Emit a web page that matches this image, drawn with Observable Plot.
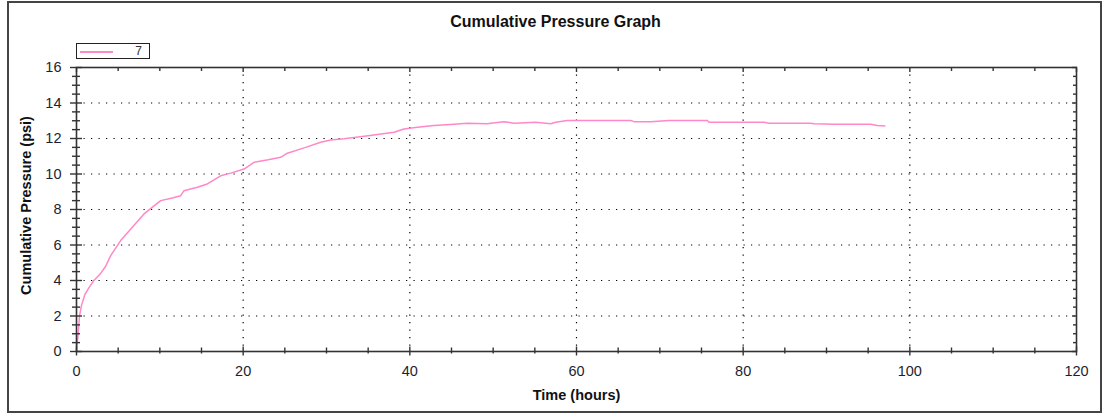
<!DOCTYPE html>
<html>
<head>
<meta charset="utf-8">
<script src="https://cdn.jsdelivr.net/npm/d3@7"></script>
<script src="https://cdn.jsdelivr.net/npm/@observablehq/plot@0.6"></script>
<style>
  html, body { margin: 0; padding: 0; background: #fff; }
  body { font-family: "Liberation Sans", Arial, sans-serif; }
  #wrap { position: relative; width: 1110px; height: 418px; overflow: hidden; }
  #wrap svg { position: absolute; left: 0; top: 0; }
  #border { position: absolute; left: 7px; top: 1px; width: 1091px; height: 408px; border: 2px solid #444; pointer-events: none; }
  #legend { position: absolute; left: 76px; top: 43px; width: 72px; height: 14px; border: 1px solid #222; background: #fff; }
  #legend .sw { position: absolute; left: 3px; top: 7px; width: 33px; height: 1.5px; background: #ff88c8; }
  #legend .lb { position: absolute; right: 7px; top: -1px; font-size: 12px; line-height: 16px; color: #333; }
</style>
</head>
<body>
<div id="wrap">
  <div id="border"></div>
  <div id="legend"><div class="sw"></div><div class="lb" id="legendLabel"></div></div>
</div>
<script>
// ---- data ----
const seriesName = "7";
const hours = [0, 0.1, 0.2, 0.36, 0.6, 1.0, 1.5, 2.08, 2.9, 3.5, 4.1, 5.3, 6.7, 8.1, 10.1, 11.5, 12.5, 12.9, 14.5, 15.7, 17.3, 18.5, 20.1, 21.3, 23.0, 24.5, 25.3, 27.5, 29.3, 30.5, 32.1, 35.0, 38.1, 39.3, 40.9, 42.9, 45.3, 46.9, 49.3, 49.7, 51.3, 52.5, 55.1, 56.9, 57.5, 58.9, 66.5, 66.9, 68.9, 71.1, 75.7, 75.9, 82.5, 83.1, 88.1, 88.5, 90.9, 95.3, 96.1, 97.0];
const pressure = [0, 0.5, 1.0, 2.0, 2.6, 3.2, 3.6, 4.0, 4.4, 4.8, 5.4, 6.25, 7.0, 7.75, 8.5, 8.65, 8.78, 9.06, 9.25, 9.44, 9.9, 10.05, 10.28, 10.66, 10.8, 10.94, 11.17, 11.5, 11.79, 11.92, 11.98, 12.15, 12.35, 12.54, 12.63, 12.73, 12.8, 12.86, 12.83, 12.86, 12.95, 12.86, 12.92, 12.83, 12.92, 13.01, 13.01, 12.95, 12.95, 13.01, 13.01, 12.92, 12.92, 12.86, 12.86, 12.83, 12.8, 12.8, 12.73, 12.71];
const xTicks = [0, 20, 40, 60, 80, 100, 120];
const yTicks = [0, 2, 4, 6, 8, 10, 12, 14, 16];
const xMinorTicks = [5, 10, 15, 25, 30, 35, 45, 50, 55, 65, 70, 75, 85, 90, 95, 105, 110, 115];
const yMinorTicks = d3.range(0.5, 16, 0.5).filter(v => v % 2 !== 0);
const xGridTicks = [20, 40, 60, 80, 100];
const yGridTicks = [2, 4, 6, 8, 10, 12, 14];
const titleText = "Cumulative Pressure Graph";
const xLabel = "Time (hours)";
const yLabel = "Cumulative Pressure (psi)";

const data = hours.map((h, i) => ({hours: h, pressure: pressure[i]}));

const font = "'Liberation Sans', Arial, sans-serif";
const axisColor = "#333";
const gridStyle = {stroke: "#000", strokeOpacity: 1, strokeDasharray: "1.2,6.3", strokeWidth: 1.2};

const chart = Plot.plot({
  width: 1110,
  height: 418,
  marginLeft: 76,
  marginRight: 34,
  marginTop: 67,
  marginBottom: 67,
  x: {domain: [0, 120]},
  y: {domain: [0, 16]},
  style: {fontFamily: font, fontSize: "14px", color: "#1e1e30", background: "transparent", overflow: "visible"},
  marks: [
    Plot.gridX(xGridTicks, gridStyle),
    Plot.gridY(yGridTicks, gridStyle),
    Plot.lineY(data, {x: "hours", y: "pressure", stroke: "#ff88c8", strokeWidth: 1.5}),
    Plot.frame({stroke: axisColor, strokeWidth: 1.6}),
    // bottom ticks (crossing the axis)
    Plot.axisX(xTicks, {anchor: "bottom", tickSize: 9, dy: -4.5, fill: "none", label: null, stroke: axisColor, strokeWidth: 1.4}),
    Plot.axisX(xMinorTicks, {anchor: "bottom", tickSize: 6, dy: -3.5, fill: "none", label: null, stroke: axisColor, strokeWidth: 1.4}),
    // top ticks (inward)
    Plot.axisX(xTicks, {anchor: "top", tickSize: 4, dy: 4, fill: "none", label: null, stroke: axisColor, strokeWidth: 1.4}),
    Plot.axisX(xMinorTicks, {anchor: "top", tickSize: 3, dy: 3, fill: "none", label: null, stroke: axisColor, strokeWidth: 1.4}),
    // left ticks (crossing the axis)
    Plot.axisY(yTicks, {anchor: "left", tickSize: 12, dx: 6, fill: "none", label: null, stroke: axisColor, strokeWidth: 1.4}),
    Plot.axisY(yMinorTicks, {anchor: "left", tickSize: 8, dx: 4, fill: "none", label: null, stroke: axisColor, strokeWidth: 1.4}),
    // right ticks (inward)
    Plot.axisY(yTicks, {anchor: "right", tickSize: 5, dx: -5, fill: "none", label: null, stroke: axisColor, strokeWidth: 1.4}),
    Plot.axisY(yMinorTicks, {anchor: "right", tickSize: 4, dx: -4, fill: "none", label: null, stroke: axisColor, strokeWidth: 1.4}),
    // tick labels
    Plot.axisX(xTicks, {anchor: "bottom", tickSize: 0, tickPadding: 14, label: null, fontSize: 14.5}),
    Plot.axisY(yTicks, {anchor: "left", tickSize: 0, tickPadding: 15, label: null, fontSize: 14.5}),
    // axis labels and title
    Plot.text([xLabel], {frameAnchor: "bottom", dy: 44, lineAnchor: "middle", fontWeight: "bold", fontSize: 14.5, fill: "#111"}),
    Plot.text([yLabel], {frameAnchor: "left", dx: -50, dy: -4, rotate: -90, textAnchor: "middle", lineAnchor: "middle", fontWeight: "bold", fontSize: 14.5, fill: "#111"}),
    Plot.text([titleText], {frameAnchor: "top", dx: -21, dy: -46, lineAnchor: "middle", fontWeight: "bold", fontSize: 16, fill: "#111"})
  ]
});

const wrap = document.getElementById("wrap");
wrap.insertBefore(chart, wrap.firstChild);
document.getElementById("legendLabel").textContent = seriesName;
</script>
</body>
</html>
